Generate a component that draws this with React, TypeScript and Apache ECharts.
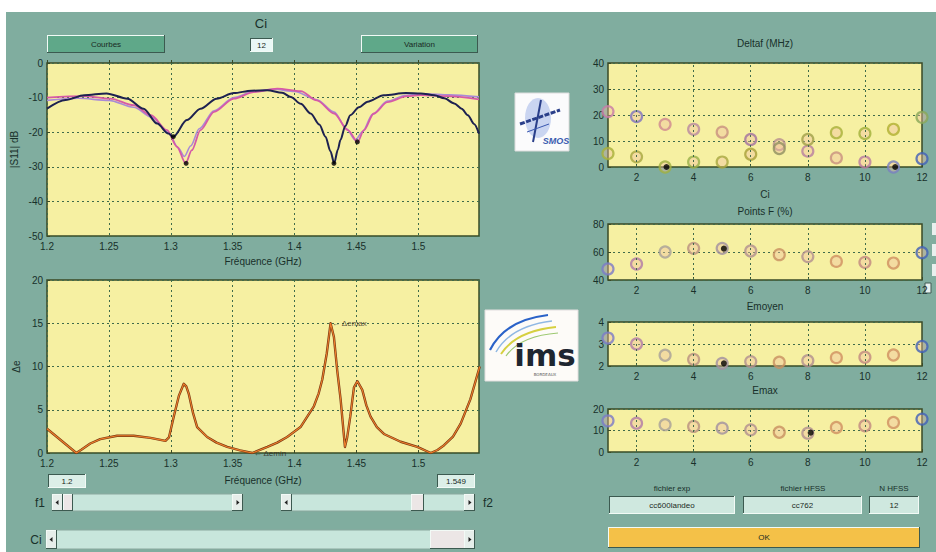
import React, { useEffect, useRef } from "react";
import * as echarts from "echarts";

// ---------- DATA ----------
// |S11| (dB) curves vs frequency (GHz)
const navyFreq = [1.2, 1.215, 1.23, 1.248, 1.265, 1.278, 1.289, 1.298, 1.302, 1.313, 1.324, 1.337, 1.351, 1.365, 1.378, 1.39, 1.397, 1.405, 1.413, 1.42, 1.425, 1.429, 1.432, 1.435, 1.437, 1.441, 1.445, 1.452, 1.459, 1.472, 1.49, 1.502, 1.513, 1.521, 1.529, 1.535, 1.54, 1.545, 1.549];
const navyDb = [-13.2, -10.7, -9.3, -8.8, -10.3, -13.2, -17.5, -20.4, -21.3, -16.5, -13.2, -10.3, -8.7, -8.0, -7.9, -8.6, -9.8, -11.8, -14.6, -17.8, -21.3, -25.5, -29.0, -25.0, -22.3, -18.2, -15.1, -12.8, -11.2, -9.3, -8.7, -8.8, -9.3, -10.2, -11.7, -13.2, -15.1, -17.6, -20.4];

const pinkFreq = [1.2, 1.23, 1.251, 1.27, 1.284, 1.297, 1.305, 1.312, 1.317, 1.324, 1.335, 1.351, 1.367, 1.386, 1.405, 1.418, 1.432, 1.443, 1.451, 1.456, 1.464, 1.475, 1.491, 1.502, 1.523, 1.549];
const pinkDb = [-10.0, -9.6, -10.3, -12.2, -15.1, -19.4, -24.2, -29.0, -25.2, -19.4, -14.1, -10.3, -8.4, -7.4, -8.1, -10.8, -14.6, -19.4, -22.8, -19.4, -14.6, -11.3, -9.6, -9.3, -9.6, -10.5];

const violetFreq = [1.2, 1.225, 1.25, 1.27, 1.285, 1.298, 1.306, 1.311, 1.316, 1.323, 1.335, 1.351, 1.367, 1.383, 1.4, 1.418, 1.432, 1.442, 1.449, 1.455, 1.463, 1.475, 1.49, 1.505, 1.525, 1.549];
const violetDb = [-10.8, -10.2, -10.8, -12.8, -15.8, -20.0, -24.5, -27.0, -24.0, -19.0, -13.8, -10.0, -8.2, -7.6, -8.2, -10.6, -14.2, -19.0, -22.3, -19.8, -14.8, -11.0, -9.3, -8.9, -9.2, -9.8];

const minimaFreq = [1.302, 1.3124, 1.4318, 1.4507];
const minimaDb = [-21.3, -29.0, -29.0, -22.8];

// Delta e vs frequency
const deFreq = [1.2, 1.2237, 1.228, 1.235, 1.243, 1.2566, 1.27, 1.2836, 1.2957, 1.2985, 1.3024, 1.3065, 1.3105, 1.3125, 1.3146, 1.318, 1.3213, 1.3294, 1.337, 1.3456, 1.356, 1.3658, 1.372, 1.378, 1.386, 1.394, 1.4048, 1.4156, 1.4195, 1.4224, 1.426, 1.4291, 1.4318, 1.4345, 1.4372, 1.4407, 1.4425, 1.445, 1.448, 1.4507, 1.4547, 1.458, 1.4614, 1.4665, 1.4722, 1.4857, 1.4992, 1.51, 1.5155, 1.5208, 1.528, 1.5342, 1.542, 1.5496];
const deVal = [2.8, 0.0, 0.4, 1.1, 1.6, 2.0, 2.0, 1.75, 1.4, 1.8, 4.2, 6.6, 8.0, 7.7, 6.8, 4.6, 3.0, 1.85, 1.2, 0.7, 0.3, 0.0, 0.35, 0.7, 1.2, 1.85, 3.0, 5.4, 6.9, 8.5, 11.5, 15.0, 13.4, 9.5, 6.2, 0.7, 1.8, 4.2, 7.6, 8.3, 7.3, 5.5, 4.2, 3.0, 2.2, 1.3, 0.7, 0.0, 0.35, 0.9, 1.9, 3.4, 6.2, 10.0];
const deMaxPoint = [1.4291, 15.0];
const deMinPoint = [1.3658, 0.0];

// Per-Ci indicators
const ciIdx = [1, 2, 3, 4, 5, 6, 7, 8, 9, 10, 11, 12];
const ciTicks = [2, 4, 6, 8, 10, 12];
const deltafA = [21.3, 19.4, 16.4, 14.5, 13.4, 10.6, 8.6, 6.1, 3.5, 1.9, 0.0, 3.2];
const deltafB = [5.2, 3.9, 0.0, 1.9, 1.9, 4.9, 7.1, 10.6, 13.2, 12.9, 14.5, 19.1];
const deltafSel = [[3.05, 0.0], [11.06, 0.0]];
const pointsF = [47.9, 51.4, 60.0, 62.6, 62.6, 60.7, 58.1, 56.7, 53.3, 52.6, 52.1, 59.5];
const pointsFSel = [[5.06, 62.4]];
const emoyen = [3.27, 3.0, 2.49, 2.3, 2.12, 2.2, 2.17, 2.24, 2.38, 2.4, 2.5, 2.89];
const emoyenSel = [[5.06, 2.12]];
const emax = [14.5, 13.4, 12.7, 11.9, 11.1, 10.3, 9.2, 8.75, 11.4, 12.2, 13.75, 15.3];
const emaxSel = [[8.1, 9.0]];

// ---------- STYLE ----------
const font = "'Liberation Sans Narrow','Liberation Sans',Arial,sans-serif";
const txt = "#18302a";
const border = "#3a4a26";
const plotBg = "#f6f0a2";
const teal = "#80ad9f";
const gridLine = { color: "#3f6b4a", type: [2, 3] as any, width: 1 };
const ringColorsA = ["#c87aa8", "#7c70c0", "#d08890", "#b888a0", "#c89080", "#a070a0", "#b89090", "#b880a0", "#c89080", "#b87aa0", "#7880c0", "#4060b8"];
const ringColorsB = ["#a8b038", "#a8a840", "#a0b040", "#98b048", "#a8a840", "#a8a038", "#909060", "#a0a048", "#a8b038", "#a0b038", "#b0b030", "#88a858"];
const ringColorsF = ["#7a7ac8", "#b07aa8", "#a8a098", "#b89080", "#a090a0", "#b09090", "#c89060", "#b09090", "#d09060", "#c08880", "#d09060", "#4060b8"];

const pts = (xs: number[], ys: number[]) => xs.map((x, i) => [x, ys[i]]);
const rings = (ys: number[], colors: string[]) =>
  ciIdx.map((c, i) => ({ value: [c, ys[i]], itemStyle: { borderColor: colors[i] } }));
const fmtF = (v: number) => String(Math.round(v * 100) / 100);

function bevel(x: number, y: number, w: number, h: number, fill: string, raised: boolean, text?: string, fontSize = 8, color = "#1a2a24") {
  const light = "#f2faf6";
  const dark = "#3c5a50";
  const ch: any[] = [
    { type: "rect", shape: { x, y, width: w, height: h }, style: { fill } },
    { type: "line", shape: { x1: x, y1: y + 0.5, x2: x + w, y2: y + 0.5 }, style: { stroke: raised ? light : dark, lineWidth: 1 } },
    { type: "line", shape: { x1: x + 0.5, y1: y, x2: x + 0.5, y2: y + h }, style: { stroke: raised ? light : dark, lineWidth: 1 } },
    { type: "line", shape: { x1: x, y1: y + h - 0.5, x2: x + w, y2: y + h - 0.5 }, style: { stroke: raised ? dark : light, lineWidth: 1 } },
    { type: "line", shape: { x1: x + w - 0.5, y1: y, x2: x + w - 0.5, y2: y + h }, style: { stroke: raised ? dark : light, lineWidth: 1 } },
  ];
  if (text) {
    ch.push({ type: "text", x: x + w / 2, y: y + h / 2, style: { text, fontSize, fontFamily: font, fill: color, align: "center", verticalAlign: "middle" } });
  }
  return { type: "group", children: ch };
}

function slider(x: number, y: number, w: number, h: number, thumbX: number, thumbW: number) {
  const cy = y + h / 2;
  return {
    type: "group",
    children: [
      { type: "rect", shape: { x, y, width: w, height: h }, style: { fill: "#c8e6dc", stroke: "#8aa89e", lineWidth: 1 } },
      bevel(x, y, 11, h, "#e6eeea", true),
      { type: "polygon", shape: { points: [[x + 3.5, cy], [x + 6.5, cy - 2.5], [x + 6.5, cy + 2.5]] }, style: { fill: "#222" } },
      bevel(thumbX, y, thumbW, h, "#ece6e6", true),
      bevel(x + w - 11, y, 11, h, "#e6eeea", true),
      { type: "polygon", shape: { points: [[x + w - 3.5, cy], [x + w - 6.5, cy - 2.5], [x + w - 6.5, cy + 2.5]] }, style: { fill: "#222" } },
    ],
  };
}

function label(x: number, y: number, text: string, fontSize = 10, extra: any = {}) {
  return { type: "text", x, y, style: { text, fontSize, fontFamily: font, fill: txt, align: "center", verticalAlign: "middle", ...extra } };
}

export default function App() {
  const ref = useRef<HTMLDivElement>(null);

  useEffect(() => {
    if (!ref.current) return;
    const chart = echarts.init(ref.current, null, { renderer: "svg" });

    const gridBase = { show: true, backgroundColor: plotBg, borderColor: border, borderWidth: 1.5 };
    const axisLabel = { color: txt, fontSize: 10, fontFamily: font };
    const nameStyle = { color: txt, fontSize: 10, fontFamily: font };
    const tick = { show: true, inside: true, length: 3, lineStyle: { color: border } };

    const leftX = (gi: number, nameGap: number) => ({
      gridIndex: gi, type: "value", min: 1.2, max: 1.549, interval: 0.05,
      axisLine: { show: false }, axisTick: tick, splitLine: { show: true, lineStyle: gridLine },
      axisLabel: { ...axisLabel, margin: 5, showMaxLabel: false, formatter: fmtF },
      name: "Fréquence (GHz)", nameLocation: "middle", nameGap, nameTextStyle: nameStyle,
    });
    const rightX = (gi: number, name?: string) => ({
      gridIndex: gi, type: "value", min: 1, max: 12,
      axisLine: { show: false },
      axisTick: { ...tick, customValues: ciTicks },
      splitLine: { show: false },
      axisLabel: { ...axisLabel, margin: 5, customValues: ciTicks },
      name, nameLocation: "middle", nameGap: 22, nameTextStyle: nameStyle,
    });
    const yAx = (gi: number, min: number, max: number, interval: number, name?: string, nameGap = 30) => ({
      gridIndex: gi, type: "value", min, max, interval,
      axisLine: { show: false }, axisTick: tick, splitLine: { show: true, lineStyle: gridLine },
      axisLabel: { ...axisLabel, margin: 4 },
      name, nameLocation: "middle", nameGap, nameRotate: 90, nameTextStyle: nameStyle,
    });

    const vGrid = { silent: true, symbol: "none", label: { show: false }, lineStyle: gridLine, data: [2, 4, 6, 8, 10].map((v) => ({ xAxis: v })) };
    const ringSeries = (xi: number, data: any[], withGrid: boolean) => ({
      type: "scatter", xAxisIndex: xi, yAxisIndex: xi, data, symbol: "circle", symbolSize: 11, silent: true,
      itemStyle: { color: "rgba(240,190,160,0.5)", borderWidth: 2.2 },
      markLine: withGrid ? vGrid : undefined, z: 3,
    });
    const dotSeries = (xi: number, data: number[][]) => ({
      type: "scatter", xAxisIndex: xi, yAxisIndex: xi, data, symbol: "circle", symbolSize: 6, silent: true,
      itemStyle: { color: "#000" }, z: 4,
    });

    const option: any = {
      animation: false,
      backgroundColor: "transparent",
      textStyle: { fontFamily: font },
      grid: [
        { ...gridBase, left: 47, top: 63, width: 432, height: 173 },
        { ...gridBase, left: 47, top: 280, width: 432, height: 173 },
        { ...gridBase, left: 608, top: 63, width: 314, height: 104 },
        { ...gridBase, left: 608, top: 224, width: 314, height: 56 },
        { ...gridBase, left: 608, top: 322, width: 314, height: 44 },
        { ...gridBase, left: 608, top: 409, width: 314, height: 43 },
      ],
      xAxis: [leftX(0, 20), leftX(1, 22), rightX(2, "Ci"), rightX(3), rightX(4), rightX(5)],
      yAxis: [
        yAx(0, -50, 0, 10, "|S11| dB", 28),
        yAx(1, 0, 20, 5, "Δe", 26),
        yAx(2, 0, 40, 10),
        yAx(3, 40, 80, 20),
        yAx(4, 2, 4, 1),
        yAx(5, 0, 20, 10),
      ],
      series: [
        { type: "line", xAxisIndex: 0, yAxisIndex: 0, data: pts(violetFreq, violetDb), smooth: 0.3, smoothMonotone: "x", showSymbol: false, silent: true, lineStyle: { color: "#a98ad6", width: 1.6 }, z: 2 },
        { type: "line", xAxisIndex: 0, yAxisIndex: 0, data: pts(pinkFreq, pinkDb), smooth: 0.3, smoothMonotone: "x", showSymbol: false, silent: true, lineStyle: { color: "#d65aa6", width: 1.8 }, z: 3 },
        { type: "line", xAxisIndex: 0, yAxisIndex: 0, data: pts(navyFreq, navyDb), smooth: 0.3, smoothMonotone: "x", showSymbol: false, silent: true, lineStyle: { color: "#1d2150", width: 2 }, z: 4 },
        { type: "scatter", xAxisIndex: 0, yAxisIndex: 0, data: pts(minimaFreq, minimaDb), symbolSize: 5, silent: true, itemStyle: { color: "#000" }, z: 5 },

        { type: "line", xAxisIndex: 1, yAxisIndex: 1, data: pts(deFreq, deVal), smooth: false, showSymbol: false, silent: true, lineStyle: { color: "#7a3814", width: 2.4, join: "round" }, z: 2 },
        { type: "line", xAxisIndex: 1, yAxisIndex: 1, data: pts(deFreq, deVal), smooth: false, showSymbol: false, silent: true, lineStyle: { color: "#ee7e2a", width: 1.1, join: "round" }, z: 3 },
        { type: "scatter", xAxisIndex: 1, yAxisIndex: 1, data: [deMaxPoint], symbolSize: 1, silent: true, itemStyle: { color: "transparent" },
          label: { show: true, position: "right", distance: 1, formatter: "← Δemax", fontSize: 8, fontFamily: font, color: "#2a2418" } },
        { type: "scatter", xAxisIndex: 1, yAxisIndex: 1, data: [deMinPoint], symbolSize: 1, silent: true, itemStyle: { color: "transparent" },
          label: { show: true, position: "right", distance: 1, formatter: "← Δemin", fontSize: 8, fontFamily: font, color: "#2a2418" } },

        ringSeries(2, rings(deltafA, ringColorsA), true),
        ringSeries(2, rings(deltafB, ringColorsB), false),
        dotSeries(2, deltafSel),
        ringSeries(3, rings(pointsF, ringColorsF), true),
        dotSeries(3, pointsFSel),
        ringSeries(4, rings(emoyen, ringColorsF), true),
        dotSeries(4, emoyenSel),
        ringSeries(5, rings(emax, ringColorsF), true),
        dotSeries(5, emaxSel),
      ],
      graphic: [
        // top controls
        bevel(47, 35, 118, 18, "#5fa889", true, "Courbes"),
        bevel(361, 35, 117, 18, "#5fa889", true, "Variation"),
        label(261, 23, "Ci", 13),
        bevel(250, 38, 23, 14, "#eaf8f6", false, "12"),
        // right titles
        label(765, 43, "Deltaf (MHz)"),
        label(765, 211, "Points F (%)"),
        label(765, 306, "Emoyen"),
        label(765, 390, "Emax"),
        // logos
        {
          type: "group",
          children: [
            { type: "rect", shape: { x: 515, y: 93, width: 54, height: 58 }, style: { fill: "#fbfbfc", stroke: "#dcdcdc" } },
            { type: "ellipse", shape: { cx: 538, cy: 118, rx: 13, ry: 20 }, style: { fill: "#b9c8ee", opacity: 0.75 } },
            { type: "line", shape: { x1: 520, y1: 124, x2: 560, y2: 110 }, style: { stroke: "#2a3f8a", lineWidth: 3, lineDash: [5, 1.5] } },
            { type: "line", shape: { x1: 541, y1: 100, x2: 533, y2: 142 }, style: { stroke: "#2a3f8a", lineWidth: 2 } },
            { type: "line", shape: { x1: 527, y1: 132, x2: 549, y2: 124 }, style: { stroke: "#3a58b0", lineWidth: 1 } },
            { type: "text", x: 556, y: 141, style: { text: "SMOS", fontSize: 9, fontStyle: "italic", fontWeight: "bold", fontFamily: "'Liberation Sans',Arial,sans-serif", fill: "#3a5cb0", align: "center", verticalAlign: "middle" } },
          ],
        },
        {
          type: "group",
          children: [
            { type: "rect", shape: { x: 485, y: 310, width: 93, height: 71 }, style: { fill: "#fdfbf8", stroke: "#e2dede" } },
            { type: "bezierCurve", shape: { x1: 490, y1: 350, cpx1: 505, cpy1: 320, x2: 548, y2: 315 }, style: { stroke: "#2a62c8", lineWidth: 2.2, fill: "none" } },
            { type: "bezierCurve", shape: { x1: 496, y1: 352, cpx1: 511, cpy1: 326, x2: 552, y2: 321 }, style: { stroke: "#90b8e4", lineWidth: 1.5, fill: "none" } },
            { type: "bezierCurve", shape: { x1: 501, y1: 354, cpx1: 516, cpy1: 331, x2: 556, y2: 327 }, style: { stroke: "#d6d040", lineWidth: 2, fill: "none" } },
            { type: "bezierCurve", shape: { x1: 506, y1: 356, cpx1: 520, cpy1: 336, x2: 558, y2: 333 }, style: { stroke: "#9cc870", lineWidth: 1.2, fill: "none" } },
            { type: "text", x: 545, y: 355, style: { text: "ims", fontSize: 31, fontWeight: "bold", fontFamily: "'DejaVu Sans',sans-serif", fill: "#1e2630", align: "center", verticalAlign: "middle" } },
            { type: "text", x: 545, y: 374, style: { text: "BORDEAUX", fontSize: 4, fontFamily: "'DejaVu Sans',sans-serif", fill: "#555", align: "center", verticalAlign: "middle" } },
          ],
        },
        // bottom-left controls
        bevel(48, 474, 38, 14, "#dcefe8", false, "1.2"),
        bevel(437, 474, 38, 14, "#dcefe8", false, "1.549"),
        label(40, 503, "f1", 12),
        slider(52, 494, 191, 17, 63, 10),
        slider(281, 494, 194, 17, 411, 13),
        label(488, 503, "f2", 12),
        label(36, 540, "Ci", 12),
        slider(46, 530, 429, 19, 430, 36),
        // bottom-right controls
        label(672, 488, "fichier exp", 8),
        label(803, 488, "fichier HFSS", 8),
        label(894, 488, "N HFSS", 8),
        bevel(609, 496, 126, 18, "#cfe8df", false, "cc600landeo"),
        bevel(743, 496, 119, 18, "#cfe8df", false, "cc762"),
        bevel(869, 496, 50, 18, "#cfe8df", false, "12"),
        bevel(608, 527, 312, 21, "#f4c148", true, "OK"),
        // cut-off elements at the right edge
        { type: "rect", shape: { x: 932, y: 223, width: 4, height: 12 }, style: { fill: "#e8f0ee" } },
        { type: "rect", shape: { x: 932, y: 244, width: 4, height: 12 }, style: { fill: "#e8f0ee" } },
        { type: "rect", shape: { x: 932, y: 264, width: 4, height: 12 }, style: { fill: "#e8f0ee" } },
        { type: "rect", shape: { x: 925, y: 283, width: 6, height: 10 }, style: { fill: "#e8f0ee", stroke: "#405a52" } },
      ],
    };

    chart.setOption(option);
    return () => chart.dispose();
  }, []);

  return (
    <div style={{ position: "fixed", left: 0, top: 0, width: 936, height: 552, background: "#ffffff", overflow: "hidden" }}>
      <div style={{ position: "absolute", left: 6, top: 12, width: 930, height: 540, background: teal }} />
      <div ref={ref} style={{ position: "absolute", left: 0, top: 0, width: 936, height: 552 }} />
    </div>
  );
}
